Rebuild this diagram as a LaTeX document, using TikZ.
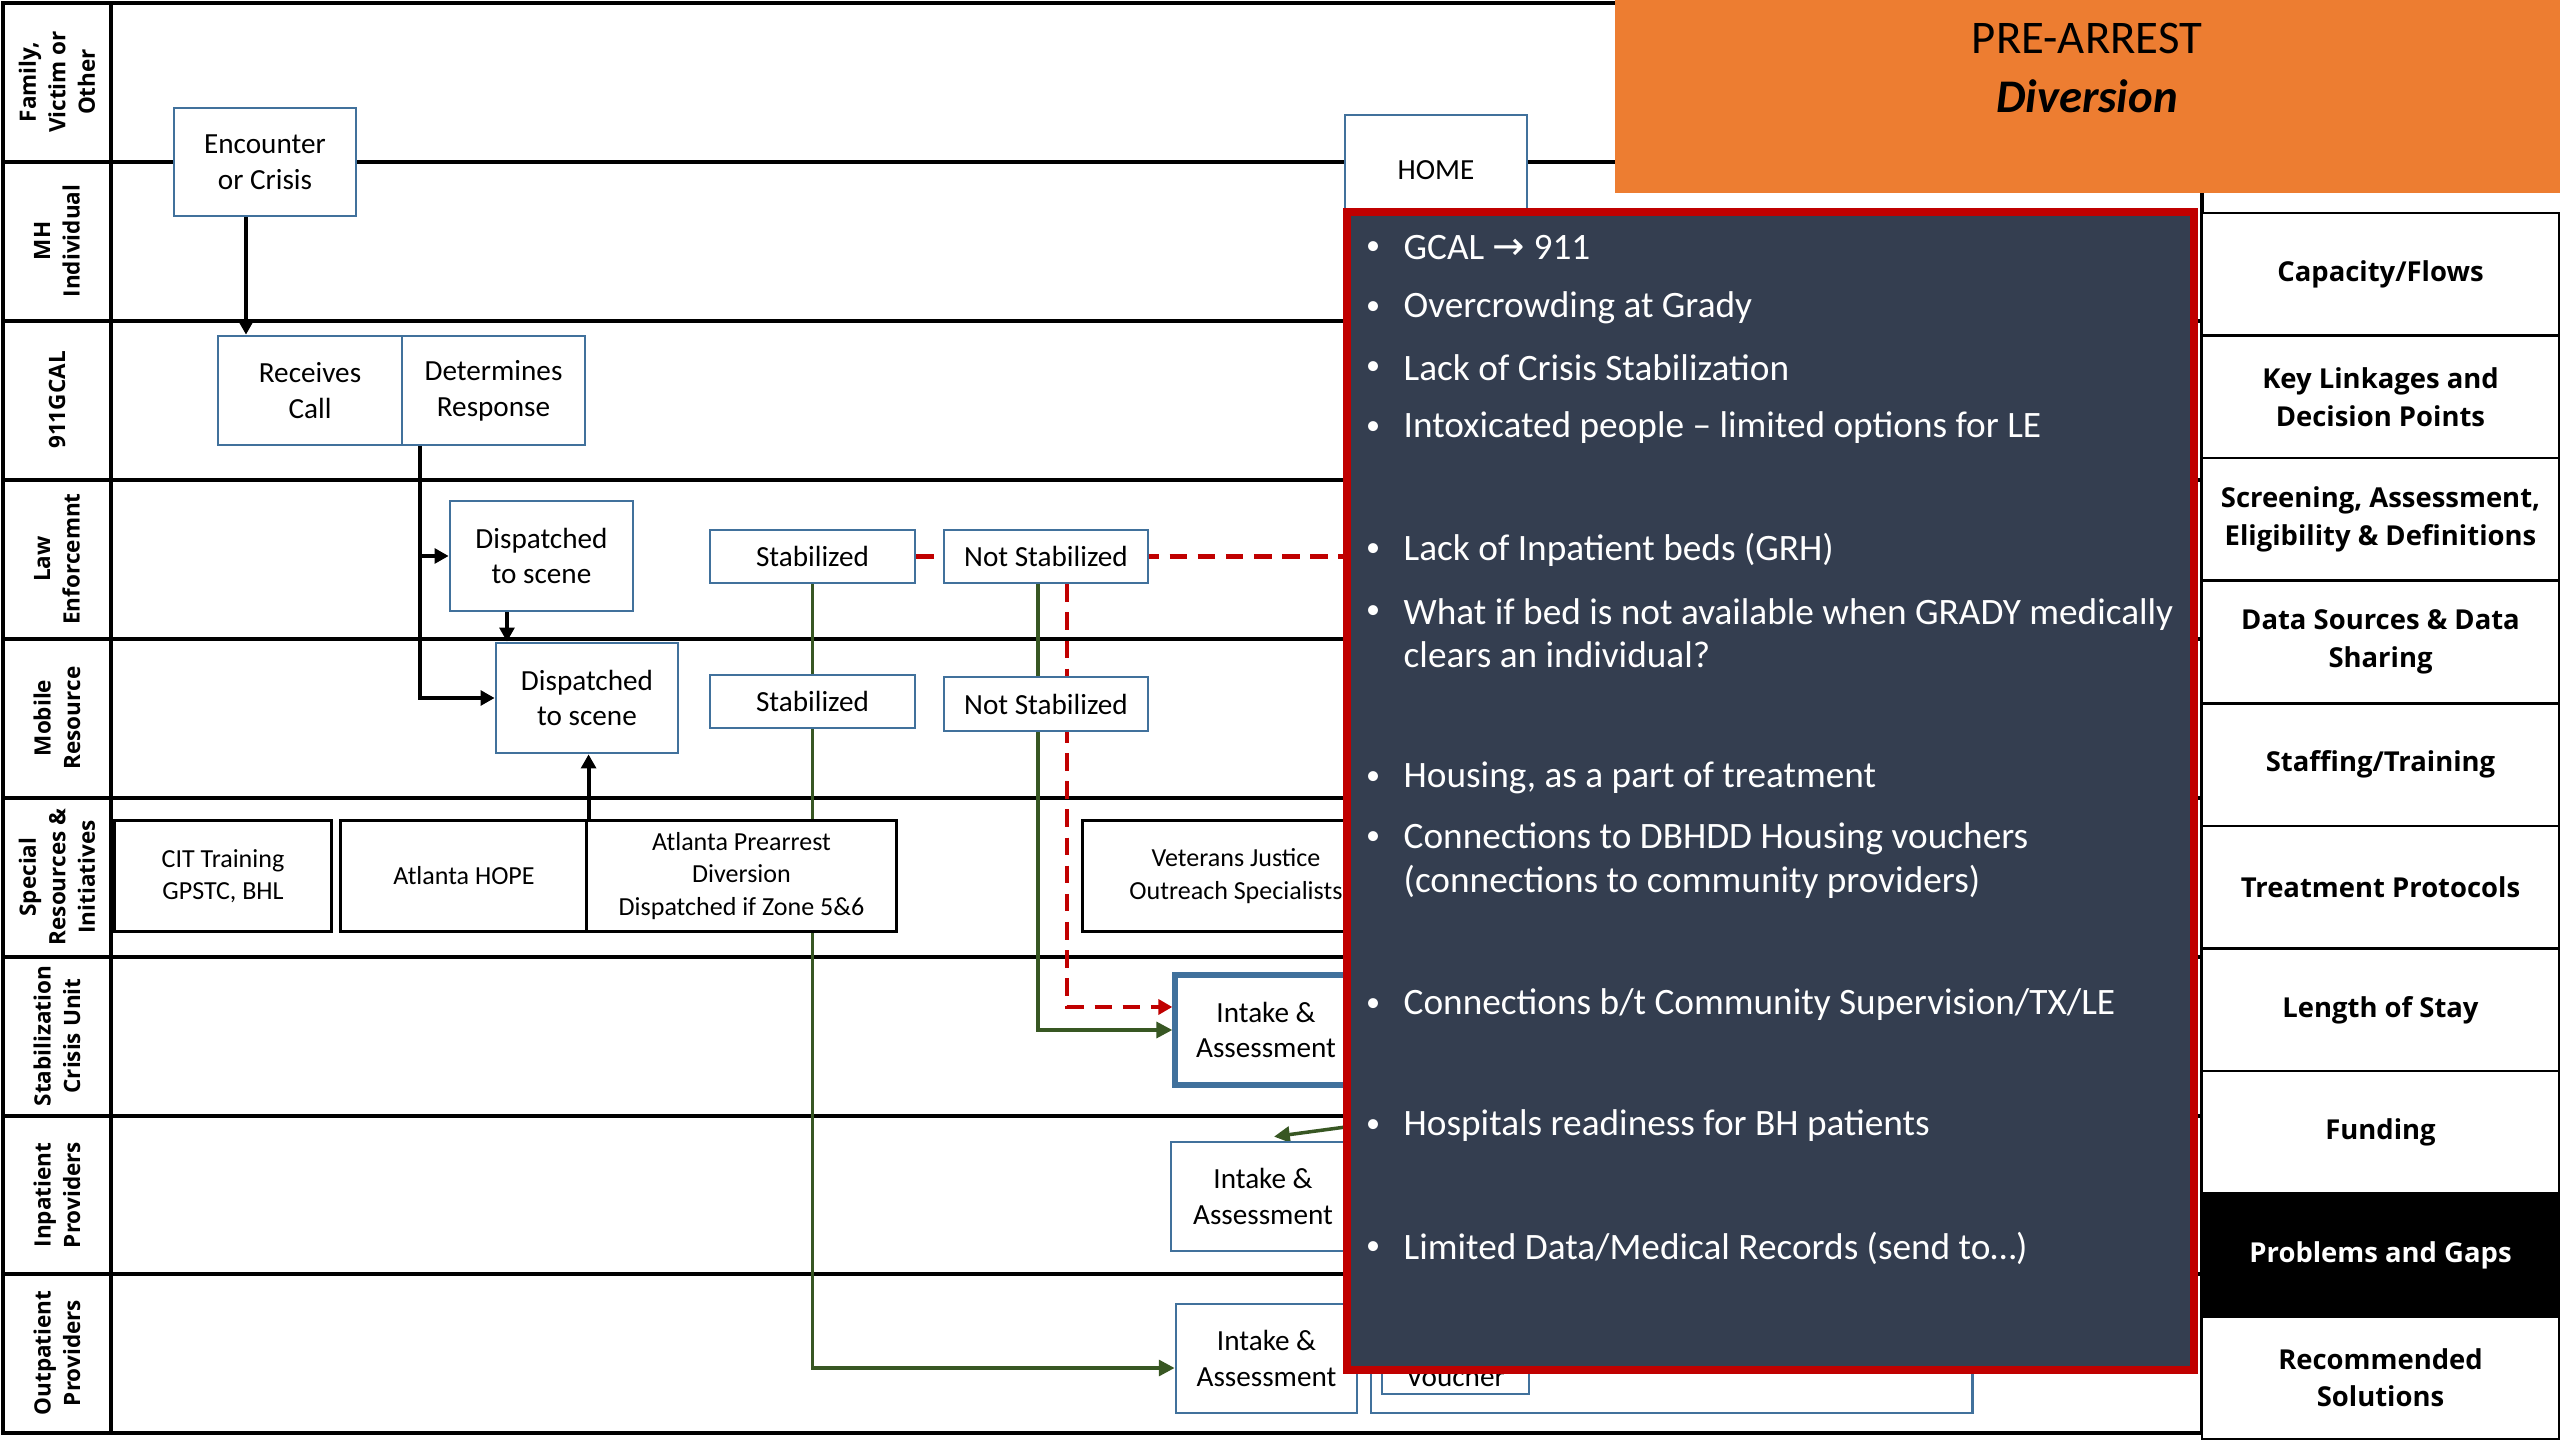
\documentclass[tikz,border=0pt]{standalone}
\usepackage{fontspec}
\setmainfont{Carlito}
\newfontfamily\osfont{Open Sans}
\newfontfamily\arrowfont{DejaVu Sans}
\usetikzlibrary{arrows.meta}

\definecolor{boxblue}{RGB}{65,113,156}
\definecolor{flowgreen}{RGB}{56,87,35}
\definecolor{alertred}{RGB}{192,0,0}
\definecolor{panelbg}{RGB}{52,62,80}
\definecolor{titleorange}{RGB}{237,125,49}

\newcommand{\flowtext}{\fontsize{8.3}{10.2}\selectfont}
\newcommand{\restext}{\fontsize{7.4}{9.2}\selectfont}
\newcommand{\paneltext}{\fontsize{10.6}{12.3}\selectfont}
\newcommand{\bullettext}{\fontsize{8}{10}\selectfont}
\newcommand{\lanetext}{\osfont\bfseries\fontsize{6.4}{8.4}\selectfont}
\newcommand{\cattext}{\osfont\bfseries\fontsize{7.8}{10.8}\selectfont}
\newcommand{\titletext}{\fontsize{13.3}{16.5}\selectfont}

\pgfdeclarelayer{lanes}
\pgfdeclarelayer{wires}
\pgfsetlayers{lanes,wires,main}

\begin{document}
\begin{tikzpicture}[x=0.01cm,y=-0.01cm,
  lane/.style={line width=0.9pt, draw=black},
  sz/.style 2 args={minimum width=#1, minimum height=#2},
  flowbox/.style={draw=boxblue, line width=0.75pt, fill=white, align=center, inner sep=0pt, font=\flowtext},
  resbox/.style={draw=black, line width=0.85pt, fill=white, align=center, inner sep=0pt, font=\restext},
  lanelabel/.style={rotate=90, align=center, font=\lanetext, inner sep=0pt},
  catbox/.style={draw=black, line width=0.75pt, fill=white, align=center, font=\cattext, minimum width=3.57cm, minimum height=1.226cm, inner sep=0pt},
  bullet/.style={text=white, font=\bullettext, inner sep=0pt},
  item/.style={text=white, font=\paneltext, anchor=west, align=left, inner sep=0pt},
  blkflow/.style={draw=black, line width=1.1pt, -{Triangle[length=4pt,width=4.2pt]}},
  grnflow/.style={draw=flowgreen, line width=1pt, -{Triangle[length=4.5pt,width=4.5pt]}},
  redflow/.style={draw=alertred, line width=1.2pt, dash pattern=on 5pt off 3pt}
]
\useasboundingbox (0,0) rectangle (2560,1440);

% swimlane grid
\begin{pgfonlayer}{lanes}
  \fill[white] (0,0) rectangle (2560,1440);
  \draw[lane] (3,3) rectangle (2202,1433);
  \draw[lane] (111,3) -- (111,1433);
  \foreach \yy in {162,321,480,639,798,957,1116,1274}
    \draw[lane] (3,\yy) -- (2202,\yy);
\end{pgfonlayer}

% lane titles
\node[lanelabel] (lFam) at (57,82) {Family,\\Victim or\\Other};
\node[lanelabel] (lMH) at (57,241) {MH\\Individual};
\node[lanelabel] (lGcal) at (57,400) {911GCAL};
\node[lanelabel] (lLaw) at (57,559) {Law\\Enforcemnt};
\node[lanelabel] (lMob) at (57,718) {Mobile\\Resource};
\node[lanelabel] (lSpec) at (57,877) {Special\\Resources \&\\Initiatives};
\node[lanelabel] (lScu) at (57,1036) {Stabilization\\Crisis Unit};
\node[lanelabel] (lInp) at (57,1195) {Inpatient\\Providers};
\node[lanelabel] (lOut) at (57,1353) {Outpatient\\Providers};

% process boxes
\node[flowbox, sz={1.82cm}{1.08cm}] (enc) at (265,162) {Encounter\\or Crisis};
\node[flowbox, sz={1.84cm}{1.09cm}] (recv) at (310,390.5) {Receives\\Call};
\node[flowbox, sz={1.83cm}{1.09cm}] (det) at (493.5,390.5) {Determines\\Response};
\node[flowbox, sz={1.83cm}{1.10cm}] (dispLE) at (541.5,556) {Dispatched\\to scene};
\node[flowbox, sz={1.82cm}{1.10cm}] (dispMR) at (587,698) {Dispatched\\to scene};
\node[flowbox, sz={2.05cm}{0.53cm}] (stabLE) at (812.5,556.5) {Stabilized};
\node[flowbox, sz={2.04cm}{0.53cm}] (nstabLE) at (1046,556.5) {Not Stabilized};
\node[flowbox, sz={2.05cm}{0.53cm}] (stabMR) at (812.5,701.5) {Stabilized};
\node[flowbox, sz={2.04cm}{0.54cm}] (nstabMR) at (1046,704) {Not Stabilized};
\node[resbox, sz={2.16cm}{1.10cm}] (cit) at (223,876) {CIT Training\\GPSTC, BHL};
\node[resbox, sz={2.46cm}{1.10cm}] (hope) at (464,876) {Atlanta HOPE};
\node[resbox, sz={3.09cm}{1.10cm}] (apd) at (741.5,876) {Atlanta Prearrest\\Diversion\\Dispatched if Zone 5\&6};
\node[resbox, sz={3.06cm}{1.10cm}] (vet) at (1236,876) {Veterans Justice\\Outreach Specialists};
\node[flowbox, line width=1.5pt, sz={1.82cm}{1.10cm}] (intSCU) at (1266,1030) {Intake \&\\Assessment};
\node[flowbox, sz={1.84cm}{1.09cm}] (intIP) at (1263,1196.5) {Intake \&\\Assessment};
\node[flowbox, sz={1.81cm}{1.09cm}] (intOP) at (1266.5,1358.5) {Intake \&\\Assessment};
\node[flowbox, sz={1.82cm}{1.10cm}] (home) at (1436,170) {HOME};
\node[flowbox, sz={6.01cm}{1.23cm}] (vouchgrp) at (1671.5,1351.5) {};
\node[flowbox, sz={1.47cm}{0.36cm}] (vouch) at (1455.5,1376) {Voucher};

% problems and gaps panel
\node[draw=alertred, line width=2.28pt, fill=panelbg, sz={8.47cm}{11.58cm}, inner sep=0pt] (gaps) at (1770.5,791) {};
\node[bullet] (b1) at (1373,248) {•};
\node[item] (t1) at (1403,248) {GCAL {\arrowfont\fontsize{11}{12}\selectfont →} 911};
\node[bullet] (b2) at (1373,308) {•};
\node[item] (t2) at (1403,308) {Overcrowding at Grady};
\node[bullet] (b3) at (1373,368) {•};
\node[item] (t3) at (1403,368) {Lack of Crisis Stabilization};
\node[bullet] (b4) at (1373,428) {•};
\node[item] (t4) at (1403,428) {Intoxicated people – limited options for LE};
\node[bullet] (b5) at (1373,550) {•};
\node[item] (t5) at (1403,550) {Lack of Inpatient beds (GRH)};
\node[bullet] (b6) at (1373,612) {•};
\node[item] (t6) at (1403,633.5) {What if bed is not available when GRADY medically\\clears an individual?};
\node[bullet] (b7) at (1373,778) {•};
\node[item] (t7) at (1403,778) {Housing, as a part of treatment};
\node[bullet] (b8) at (1373,838) {•};
\node[item] (t8) at (1403,860.5) {Connections to DBHDD Housing vouchers\\(connections to community providers)};
\node[bullet] (b9) at (1373,1005) {•};
\node[item] (t9) at (1403,1005) {Connections b/t Community Supervision/TX/LE};
\node[bullet] (b10) at (1373,1126) {•};
\node[item] (t10) at (1403,1126) {Hospitals readiness for BH patients};
\node[bullet] (b11) at (1373,1248) {•};
\node[item] (t11) at (1403,1248) {Limited Data/Medical Records (send to…)};

% title banner
\node[fill=titleorange, inner sep=0pt, sz={9.45cm}{1.93cm}] (title) at (2087.5,96.5) {};
\node[align=center, font=\titletext, inner sep=0pt] (titletxt) at (2087,68) {PRE-ARREST\\\textbf{\textit{Diversion}}};

% category column
\node[catbox] (c1) at (2380.5,274.3) {Capacity/Flows};
\node[catbox] (c2) at (2380.5,396.9) {Key Linkages and\\Decision Points};
\node[catbox] (c3) at (2380.5,519.5) {Screening, Assessment,\\Eligibility \& Definitions};
\node[catbox] (c4) at (2380.5,642.1) {Data Sources \& Data\\Sharing};
\node[catbox] (c5) at (2380.5,764.7) {Staffing/Training};
\node[catbox] (c6) at (2380.5,887.3) {Treatment Protocols};
\node[catbox] (c7) at (2380.5,1009.9) {Length of Stay};
\node[catbox] (c8) at (2380.5,1132.5) {Funding};
\node[catbox, fill=black, text=white] (c9) at (2380.5,1255.1) {Problems and Gaps};
\node[catbox] (c10) at (2380.5,1377.7) {Recommended\\Solutions};

% connectors
\begin{pgfonlayer}{wires}
  \path ([xshift=-0.19cm]enc.south) coordinate (encOut);
  \draw[blkflow] (encOut) -- (encOut |- recv.north);
  \path ([xshift=-0.735cm]det.south) coordinate (detOut);
  \draw[blkflow] (detOut) |- (dispMR.west);
  \draw[blkflow] (detOut |- dispLE.west) -- (dispLE.west);
  \path ([xshift=-0.345cm]dispLE.south) coordinate (leDown);
  \draw[blkflow] (leDown) -- (leDown |- dispMR.north);
  \draw[blkflow] (hope.north east) -- (hope.north east |- dispMR.south);

  \path ([yshift=-0.095cm]intOP.west) coordinate (opIn);
  \draw[grnflow] (stabLE.south) |- (opIn);
  \path ([xshift=-0.08cm]nstabLE.south) coordinate (nsDown);
  \draw[grnflow] (nsDown) |- (intSCU.west);
  \coordinate (ipSrc) at (1420,1117);
  \path ([xshift=0.11cm,yshift=0.04cm]intIP.north) coordinate (ipIn);
  \draw[grnflow] (ipSrc) -- (ipIn);

  \draw[redflow] (stabLE.east) -- (stabLE.east -| gaps.west);
  \path ([xshift=0.21cm]nstabLE.south) coordinate (redDown);
  \path ([yshift=0.23cm]intSCU.west) coordinate (redIn);
  \draw[redflow, -{Triangle[length=4pt,width=4.3pt]}] (redDown) |- (redIn);
\end{pgfonlayer}
\end{tikzpicture}
\end{document}
